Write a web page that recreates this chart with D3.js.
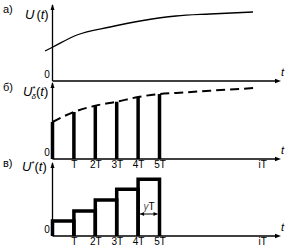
<!DOCTYPE html>
<html><head><meta charset="utf-8">
<script src="https://cdn.jsdelivr.net/npm/d3@7"></script>
<style>
body{margin:0;background:#fff}
svg{display:block;font-family:"Liberation Sans",Arial,sans-serif}
</style></head><body>
<script>
// panel а: continuous signal (t in units of T)
const curveT = [-0.35, 0.02, 1.14, 2.69, 4.23, 5.77, 7.36, 9.37];
const curveU = [30, 34, 46, 54, 60.5, 65, 67, 69];
// panel б: samples and dashed envelope
const sampleK = [0, 1, 2, 3, 4, 5];
const sampleU = [37, 47, 53.3, 57.3, 62, 65];
const envT = [0, 1, 2, 3, 4, 5, 5.78, 7.36, 9.46];
const envU = [37, 47, 53.3, 57.3, 62, 65, 66, 68.3, 71];
// panel в: held values
const stepU = [15, 25, 36, 46.7, 56.7];
// ticks
const tickT = [1, 2, 3, 4, 5, 9.8];
const tickLabels = ["T", "2T", "3T", "4T", "5T", "iT"];

const width = 286, height = 251;
const baseY = [81, 159, 236], topY = [5, 83, 163];

const svg = d3.select("body").append("svg")
    .attr("width", width)
    .attr("height", height);

const x = d3.scaleLinear().domain([0, 10.63]).range([52.5, 280]);
const yFor = i => d3.scaleLinear().domain([0, 80]).range([baseY[i], baseY[i] - 80]);

// axes with arrows
baseY.forEach((b, i) => {
    const g = svg.append("g");
    g.append("line").attr("x1", x(0)).attr("x2", x(0)).attr("y1", b).attr("y2", topY[i])
        .attr("stroke", "#000").attr("stroke-width", 1.3);
    g.append("line").attr("x1", x(0)).attr("x2", 278).attr("y1", b).attr("y2", b)
        .attr("stroke", "#000").attr("stroke-width", 1.3);
    g.append("path").attr("d", `M${x(0) - 2},${topY[i] + 5}L${x(0)},${topY[i] - 1}L${x(0) + 2},${topY[i] + 5}Z`);
    g.append("path").attr("d", `M275,${b - 2.2}L281,${b}L275,${b + 2.2}Z`);
    g.append("text").attr("x", 47).attr("y", b - 3).attr("font-size", 10)
        .attr("text-anchor", "middle").text("0");
    g.append("text").attr("x", 281).attr("y", b - 5).attr("font-size", 11)
        .attr("font-style", "italic").text("t");
});

// panel labels
const names = ["а)", "б)", "в)"];
const nameY = [13, 91, 167];
names.forEach((n, i) => svg.append("text").attr("x", 3).attr("y", nameY[i])
    .attr("font-size", 11).text(n));

// y labels
const ya = svg.append("text").attr("x", 25).attr("y", 19).attr("font-size", 13);
ya.append("tspan").attr("font-style", "italic").text("U");
ya.append("tspan").attr("dx", 2).text("(");
ya.append("tspan").attr("font-style", "italic").text("t");
ya.append("tspan").text(")");

const yb = svg.append("text").attr("x", 23).attr("y", 96).attr("font-size", 13);
yb.append("tspan").attr("font-style", "italic").text("U");
yb.append("tspan").attr("font-size", 8).attr("dy", -5).text("*");
yb.append("tspan").attr("font-size", 8).attr("dx", -4).attr("dy", 8).attr("font-style", "italic").text("δ");
yb.append("tspan").attr("dy", -3).text("(");
yb.append("tspan").attr("font-style", "italic").text("t");
yb.append("tspan").text(")");

const yc = svg.append("text").attr("x", 22).attr("y", 171).attr("font-size", 13);
yc.append("tspan").attr("font-style", "italic").text("U");
yc.append("tspan").attr("font-size", 8).attr("dy", -5).text("*");
yc.append("tspan").attr("dy", 5).text("(");
yc.append("tspan").attr("font-style", "italic").text("t");
yc.append("tspan").text(")");

// panel а curve
const ya0 = yFor(0);
svg.append("path")
    .datum(curveT.map((t, i) => [t, curveU[i]]))
    .attr("fill", "none").attr("stroke", "#000").attr("stroke-width", 1.3)
    .attr("d", d3.line().x(d => x(d[0])).y(d => ya0(d[1])).curve(d3.curveMonotoneX));

// panel б
const yb0 = yFor(1);
svg.append("path")
    .datum(envT.map((t, i) => [t, envU[i]]))
    .attr("fill", "none").attr("stroke", "#000").attr("stroke-width", 2)
    .attr("stroke-dasharray", "9,5")
    .attr("d", d3.line().x(d => x(d[0])).y(d => yb0(d[1])).curve(d3.curveMonotoneX));
svg.selectAll(".pulse").data(sampleK).enter().append("line")
    .attr("class", "pulse")
    .attr("x1", d => x(d)).attr("x2", d => x(d))
    .attr("y1", baseY[1]).attr("y2", (d, i) => yb0(sampleU[i]))
    .attr("stroke", "#000").attr("stroke-width", 3.5);

// panel в steps
const yc0 = yFor(2);
svg.selectAll(".step").data(stepU).enter().append("path")
    .attr("class", "step")
    .attr("fill", "none").attr("stroke", "#000").attr("stroke-width", 3.5)
    .attr("d", (d, i) => `M${x(i)},${baseY[2]}V${yc0(d)}H${x(i + 1)}V${baseY[2]}`);

// tick labels
[1, 2].forEach(i => {
    const ax = d3.axisBottom(x).tickValues(tickT)
        .tickFormat((d, j) => tickLabels[j]).tickSize(0).tickPadding(2);
    const g = svg.append("g").attr("transform", `translate(0,${baseY[i]})`).call(ax);
    g.select(".domain").remove();
    g.selectAll("text").attr("font-size", 10).attr("font-family", "Liberation Sans, Arial, sans-serif");
});

// γT annotation
const ay = 214;
svg.append("line").attr("x1", x(4) + 2).attr("x2", x(5) - 2).attr("y1", ay).attr("y2", ay)
    .attr("stroke", "#000").attr("stroke-width", 1);
svg.append("path").attr("d", `M${x(4) + 2},${ay}l4,-2v4Z M${x(5) - 2},${ay}l-4,-2v4Z`);
const gt = svg.append("text").attr("x", 149).attr("y", 210).attr("font-size", 10).attr("text-anchor", "middle");
gt.append("tspan").attr("font-style", "italic").attr("fill", "#555").text("γ");
gt.append("tspan").text("T");
</script>
</body></html>
